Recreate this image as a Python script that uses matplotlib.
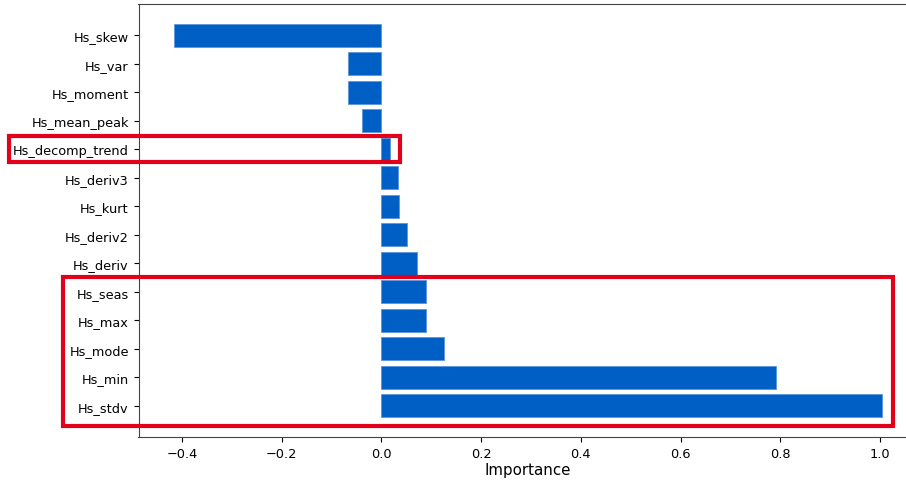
import matplotlib.pyplot as plt
import numpy as np
from matplotlib.patches import Rectangle

# feature importances, top to bottom
features = ['Hs_skew', 'Hs_var', 'Hs_moment', 'Hs_mean_peak', 'Hs_decomp_trend',
            'Hs_deriv3', 'Hs_kurt', 'Hs_deriv2', 'Hs_deriv', 'Hs_seas',
            'Hs_max', 'Hs_mode', 'Hs_min', 'Hs_stdv']
importance = [-0.415, -0.066, -0.066, -0.038, 0.018,
              0.034, 0.036, 0.052, 0.072, 0.090,
              0.090, 0.126, 0.792, 1.004]

# highlighted groups: (first row, last row, x from, x to)
highlights = [(4, 4, -0.747, 0.038), (9, 13, -0.639, 1.026)]

W, H = 906, 481
fig = plt.figure(figsize=(W / 100, H / 100), dpi=100)
ax = fig.add_axes([138.5 / W, (H - 438) / H, 779 / W, 433 / H])

y = np.arange(len(features))
ax.barh(y, importance, height=0.8, color='#005FC5', edgecolor='#5b97dd', linewidth=0.6)
ax.set_yticks(y)
ax.set_yticklabels(features, fontsize=9.3)
ax.set_xticks([-0.4, -0.2, 0.0, 0.2, 0.4, 0.6, 0.8, 1.0])
ax.tick_params(axis='x', labelsize=9.3)
ax.set_xlabel('Importance', fontsize=10.8, labelpad=2)
for s in ax.spines.values():
    s.set_color('#444444')
ax.spines['right'].set_visible(False)

for r0, r1, x0, x1 in highlights:
    if r1 != r0:
        top, bottom = r0 - 0.53, r1 + 0.7
    else:
        top, bottom = r0 - 0.47, r1 + 0.45
    ax.add_patch(Rectangle((x0, top), x1 - x0, bottom - top, fill=False,
                           edgecolor='#E2001A', linewidth=3, clip_on=False, zorder=5))

ax.set_xlim(-0.487, 1.075)
ax.set_ylim(len(features) - 1 + 1.09, -1.09)

fig.savefig('out.png', dpi=100)
